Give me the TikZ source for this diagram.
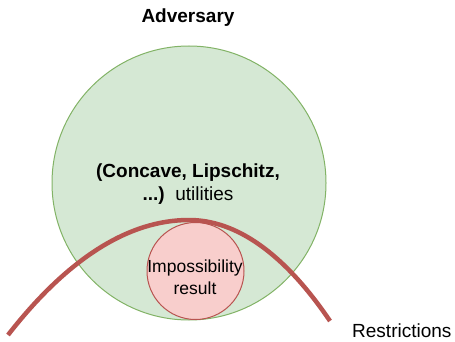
\documentclass[tikz,border=0pt]{standalone}
\usepackage{fontspec}
\setmainfont{Liberation Sans}
\definecolor{greenfill}{HTML}{D5E8D4}
\definecolor{greenline}{HTML}{82B366}
\definecolor{redfill}{HTML}{F8CECC}
\definecolor{redline}{HTML}{B85450}
\begin{document}
\begin{tikzpicture}[x=1pt,y=-1pt,
  bigset/.style={circle,draw=greenline,fill=greenfill,line width=1pt,minimum size=274pt,inner sep=0pt},
  smallset/.style={circle,draw=redline,fill=redfill,line width=1pt,minimum size=97pt,inner sep=0pt},
  bound/.style={draw=redline,line width=4.5pt},
  lbl/.style={font=\fontsize{19}{23}\selectfont,align=center,inner sep=0pt},
  smalllbl/.style={font=\fontsize{17.5}{22}\selectfont,align=center,inner sep=0pt}]
\useasboundingbox (0,0) rectangle (455,342);
% the adversary set and the impossibility region
\node[bigset] (adv) at (189,183) {};
\node[smallset] (imp) at (195.5,271) {};
% restriction boundary
\coordinate (rstart) at (8,335);
\coordinate (rpeak) at (189,220);
\coordinate (rend) at (330,321);
\draw[bound] (rstart) .. controls (68,258) and (129,220) .. (rpeak)
             .. controls (236,220) and (284,253) .. (rend);
% labels
\node[lbl,font=\fontsize{19}{23}\selectfont\bfseries] (title) at (188,18) {Adversary};
\node[lbl] (util) at (188,184) {{\bfseries (Concave, Lipschitz,}\\{\bfseries ...)}\ \ utilities};
\node[smalllbl] (implbl) at (195,277) {Impossibility\\result};
\node[lbl,anchor=west] (restr) at (352,331) {Restrictions};
\end{tikzpicture}
\end{document}
